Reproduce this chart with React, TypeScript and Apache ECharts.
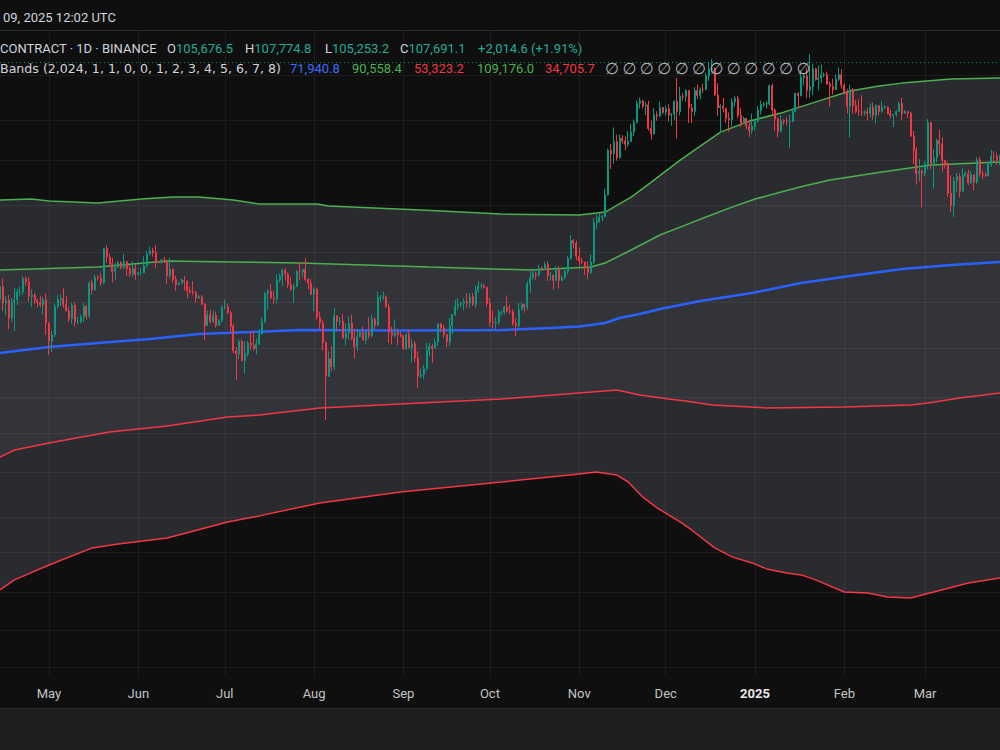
import React, { useEffect, useRef } from "react";
import * as echarts from "echarts";

// ---------- DATA ----------
// Daily candles [open, high, low, close], first day = 2024-04-14
const apr2024 = [
  [63900, 65800, 62300, 65700], [65700, 66900, 62300, 63450], [63450, 64400, 61700, 63800],
  [63800, 64500, 59800, 61300], [61300, 64100, 60800, 63500], [63500, 65500, 59600, 63850],
  [63850, 65400, 63100, 64950], [64950, 65700, 64300, 64960], [64960, 67200, 64500, 66850],
  [66850, 67200, 65850, 66400], [66400, 67100, 63600, 64300], [64300, 65300, 62800, 64500],
  [64500, 64800, 63300, 63770], [63770, 63900, 62800, 63460], [63460, 64350, 62800, 63120],
  [63120, 64200, 61800, 63840], [63840, 64700, 59100, 60630],
];
const may2024 = [
  [60630, 60800, 56500, 58250], [58250, 59600, 56900, 59120], [59120, 63300, 58800, 62880],
  [62880, 64500, 62600, 63890], [63890, 64600, 62900, 64000], [64000, 65500, 62700, 63150],
  [63150, 64400, 62200, 62300], [62300, 62900, 60800, 61200], [61200, 63400, 60600, 63070],
  [63070, 63500, 60200, 60800], [60800, 61500, 60500, 60820], [60820, 61800, 60600, 61480],
  [61480, 63450, 60800, 62940], [62940, 63100, 61100, 61580], [61580, 66450, 61300, 66250],
  [66250, 66700, 64600, 65230], [65230, 67450, 65100, 67050], [67050, 67400, 66600, 66940],
  [66940, 67700, 65850, 66270], [66270, 71500, 66100, 71450], [71450, 71950, 69200, 70140],
  [70140, 70650, 68900, 69120], [69120, 70050, 66300, 67930], [67930, 69250, 66600, 68530],
  [68530, 69550, 68500, 69280], [69280, 69500, 68250, 68500], [68500, 70600, 68250, 69400],
  [69400, 69550, 67300, 68350], [68350, 68900, 67150, 67600], [67600, 69500, 67150, 68350],
  [68350, 69000, 66700, 67500],
];
const jun2024 = [
  [67500, 67850, 67400, 67750], [67750, 68400, 67300, 67760], [67760, 70250, 67650, 68800],
  [68800, 71050, 68550, 70560], [70560, 71750, 70380, 71080], [71080, 71600, 70150, 70800],
  [70800, 71950, 68500, 69350], [69350, 69550, 69200, 69300], [69300, 69850, 69150, 69650],
  [69650, 70150, 69200, 69500], [69500, 69550, 66050, 67320], [67320, 69950, 66900, 68240],
  [68240, 68400, 66300, 66750], [66750, 67300, 65050, 66000], [66000, 66400, 65900, 66200],
  [66200, 66950, 66050, 66650], [66650, 67250, 65150, 66500], [66500, 66550, 64050, 65150],
  [65150, 65700, 64700, 64950], [64950, 66500, 64500, 64850], [64850, 65050, 63400, 64100],
  [64100, 64500, 63950, 64250], [64250, 64500, 63150, 63200], [63200, 63350, 58400, 60300],
  [60300, 62400, 60250, 61800], [61800, 62450, 60600, 60850], [60850, 62350, 60650, 61700],
  [61700, 62200, 60050, 60350], [60350, 61200, 60300, 60950], [60950, 63000, 60700, 62750],
];
const jul2024 = [
  [62750, 63850, 62500, 62900], [62900, 63300, 61850, 62050], [62050, 62300, 59450, 60200],
  [60200, 60500, 56750, 57050], [57050, 57550, 53500, 56650], [56650, 58500, 56000, 58250],
  [58250, 58450, 55750, 55850], [55850, 58250, 54250, 56700], [56700, 58300, 56300, 58050],
  [58050, 59450, 57200, 57750], [57750, 59550, 57050, 57350], [57350, 58600, 56600, 57900],
  [57900, 59850, 57750, 59250], [59250, 61400, 59150, 60800], [60800, 64900, 60650, 64750],
  [64750, 65350, 62400, 65050], [65050, 66100, 63900, 64100], [64100, 65100, 63250, 63950],
  [63950, 67450, 63300, 66650], [66650, 67600, 66300, 67150], [67150, 68350, 65800, 68150],
  [68150, 68500, 66600, 67550], [67550, 67800, 65450, 65950], [65950, 67100, 65100, 65350],
  [65350, 66150, 63400, 65750], [65750, 68200, 65700, 67900], [67900, 69350, 66650, 67850],
  [67850, 68300, 67050, 68250], [68250, 70000, 66500, 66750], [66750, 66950, 65300, 66200],
  [66200, 66800, 64500, 64600],
];
const aug2024 = [
  [64600, 65600, 62250, 65350], [65350, 65550, 61100, 61450], [61450, 62200, 59850, 60650],
  [60650, 61100, 57150, 58100], [58100, 58250, 49000, 53950], [53950, 57000, 53850, 56050],
  [56050, 57650, 54550, 55100], [55100, 62700, 54700, 61650], [61650, 61700, 59550, 60850],
  [60850, 61450, 60300, 60900], [60900, 61850, 58550, 58700], [58700, 60650, 57700, 59350],
  [59350, 61550, 58450, 60600], [60600, 61750, 58400, 58700], [58700, 59800, 56100, 57550],
  [57550, 59800, 57050, 58850], [58850, 59650, 58800, 59450], [59450, 60200, 58350, 58450],
  [58450, 59600, 57850, 59450], [59450, 61400, 58600, 59000], [59000, 61800, 58800, 61150],
  [61150, 61400, 59800, 60350], [60350, 64950, 60300, 64050], [64050, 64500, 63550, 64150],
  [64150, 65000, 63800, 64200], [64200, 64450, 62750, 62850], [62850, 63200, 58050, 59450],
  [59450, 60200, 57850, 59000], [59000, 61150, 58750, 59400], [59400, 59900, 57750, 59100],
  [59100, 59450, 58750, 58950],
];
const sep2024 = [
  [58950, 59050, 57150, 57300], [57300, 59400, 57150, 59100], [59100, 59800, 57350, 57450],
  [57450, 58500, 55600, 57950], [57950, 58300, 55650, 56150], [56150, 57000, 52550, 53950],
  [53950, 54850, 53750, 54150], [54150, 55300, 53650, 54850], [54850, 58100, 54600, 57050],
  [57050, 58050, 56400, 57650], [57650, 57950, 55550, 57350], [57350, 58600, 57300, 58150],
  [58150, 60600, 57650, 60550], [60550, 60650, 59450, 60000], [60000, 60400, 58700, 59150],
  [59150, 59200, 57500, 58200], [58200, 61300, 57650, 60300], [60300, 61800, 59200, 61750],
  [61750, 63850, 61600, 62950], [62950, 64100, 62400, 63200], [63200, 63550, 62800, 63350],
  [63350, 64000, 62400, 63600], [63600, 64700, 62700, 63350], [63350, 64800, 62700, 64250],
  [64250, 64800, 62950, 63150], [63150, 65800, 62700, 65200], [65200, 66500, 64850, 65800],
  [65800, 66250, 65400, 65850], [65850, 66100, 65450, 65600], [65600, 65650, 62850, 63300],
];
const oct2024 = [
  [63300, 64100, 60200, 60800], [60800, 62350, 59950, 60650], [60650, 61450, 59850, 60750],
  [60750, 62450, 60450, 62050], [62050, 62350, 61650, 62100], [62100, 62950, 61800, 62800],
  [62800, 64450, 62100, 62200], [62200, 63150, 61850, 62150], [62150, 62500, 60300, 60600],
  [60600, 61300, 58900, 60300], [60300, 63400, 60050, 62450], [62450, 63450, 62350, 63200],
  [63200, 63250, 62050, 62850], [62850, 66500, 62450, 66050], [66050, 67900, 64800, 67050],
  [67050, 68400, 66700, 67600], [67600, 67900, 66700, 67400], [67400, 68950, 67100, 68400],
  [68400, 68700, 68000, 68350], [68350, 69400, 68150, 69000], [69000, 69500, 66550, 67350],
  [67350, 67850, 66600, 67400], [67400, 67450, 65250, 66650], [66650, 68800, 66500, 68150],
  [68150, 68750, 65450, 66600], [66600, 67400, 66500, 67000], [67000, 68250, 66800, 67950],
  [67950, 70250, 67500, 69900], [69900, 73600, 69700, 72700], [72700, 72950, 71450, 72300],
  [72300, 72700, 69650, 70250],
];
const nov2024 = [
  [70250, 71600, 68800, 69500], [69500, 70000, 69050, 69350], [69350, 69400, 67450, 68750],
  [68750, 69500, 66800, 67800], [67800, 70550, 67500, 69350], [69350, 76400, 69050, 75600],
  [75600, 76950, 74550, 75900], [75900, 77200, 75600, 76550], [76550, 76900, 75850, 76650],
  [76650, 81500, 76500, 80400], [80400, 89000, 80250, 88700], [88700, 89950, 85100, 87950],
  [87950, 93250, 86100, 90400], [90400, 91800, 86700, 87250], [87250, 91850, 87100, 91050],
  [91050, 91700, 90000, 90550], [90550, 91450, 88700, 89850], [89850, 92550, 89350, 90450],
  [90450, 93950, 90300, 92300], [92300, 94900, 91500, 94300], [94300, 98950, 94100, 98350],
  [98350, 99600, 97200, 98900], [98900, 99000, 97200, 97750], [97750, 98650, 95800, 98000],
  [98000, 98900, 92600, 93050], [93050, 94700, 90800, 91950], [91950, 97350, 91800, 95950],
  [95950, 96650, 94650, 95650], [95650, 98700, 95400, 97450], [97450, 97500, 96000, 96400],
];
const dec2024 = [
  [96400, 97850, 95700, 97200], [97200, 98150, 94500, 95850], [95850, 96300, 93600, 96000],
  [96000, 99000, 94700, 98750], [98750, 104000, 91000, 96600], [96600, 101950, 95750, 99900],
  [99900, 100550, 98950, 99850], [99850, 101400, 98700, 101150], [101150, 101200, 94150, 97350],
  [97350, 98250, 94200, 96600], [96600, 101900, 95650, 101150], [101150, 102500, 99300, 100050],
  [100050, 101850, 99200, 101400], [101400, 102650, 100600, 101350], [101350, 105200, 101200, 104450],
  [104450, 107750, 103300, 106050], [106050, 108350, 105300, 106150], [106150, 106450, 100000, 100150],
  [100150, 102800, 95650, 97450], [97450, 98150, 92200, 97750], [97750, 99500, 96400, 97250],
  [97250, 97400, 94200, 95150], [95150, 96400, 92400, 94850], [94850, 99450, 93450, 98700],
  [98700, 99950, 97600, 99400], [99400, 99950, 95150, 95800], [95800, 97300, 93350, 94200],
  [94200, 95500, 94000, 95150], [95150, 95200, 92900, 93550], [93550, 94900, 91300, 92650],
  [92650, 96150, 92000, 93550],
];
const jan2025 = [
  [93550, 95000, 92700, 94550], [94550, 97750, 94200, 96850], [96850, 98950, 96000, 98100],
  [98100, 98700, 97500, 98200], [98200, 98800, 97200, 98300], [98300, 102500, 97900, 102200],
  [102200, 102700, 96100, 96900], [96900, 97250, 92500, 95000], [95000, 95350, 91200, 92500],
  [92500, 95800, 92200, 94700], [94700, 95000, 93800, 94550], [94550, 95350, 93700, 94500],
  [94500, 95900, 89200, 94550], [94550, 97350, 94300, 96500], [96500, 100650, 96450, 100500],
  [100500, 100800, 97300, 99950], [99950, 105800, 99900, 104050], [104050, 104950, 102300, 104450],
  [104450, 106300, 99500, 101200], [101200, 109588, 99550, 102000], [102000, 107200, 100100, 106100],
  [106100, 106300, 103350, 103650], [103650, 106850, 101200, 103950], [103950, 107100, 102750, 104700],
  [104700, 105250, 104100, 104750], [104750, 105450, 102450, 102600], [102600, 103200, 97700, 102050],
  [102050, 103800, 100250, 101300], [101300, 104800, 101250, 103700], [103700, 106450, 103300, 104750],
  [104750, 106000, 101550, 102400],
];
const feb2025 = [
  [102400, 102750, 100300, 100650], [100650, 101450, 96150, 97700], [97700, 102500, 91200, 101350],
  [101350, 101700, 96150, 97850], [97850, 99150, 96150, 96600], [96600, 99200, 95700, 96550],
  [96550, 100100, 95650, 96450], [96450, 96850, 95700, 96500], [96500, 97300, 94700, 96150],
  [96150, 98350, 95300, 97450], [97450, 98500, 94850, 95800], [95800, 98100, 94100, 97850],
  [97850, 97950, 95700, 96600], [96600, 98800, 96300, 97500], [97500, 97950, 97150, 97550],
  [97550, 97700, 96000, 96150], [96150, 97000, 95150, 95750], [95750, 96000, 93350, 95950],
  [95950, 96900, 95550, 96600], [96600, 98750, 96450, 98300], [98300, 99500, 94800, 96150],
  [96150, 96900, 96100, 96550], [96550, 96650, 95200, 96250], [96250, 96500, 91350, 91500],
  [91500, 92500, 86050, 88700], [88700, 89300, 82250, 84250], [84250, 87000, 82800, 84700],
  [84700, 85100, 78200, 84350],
];
const mar2025 = [
  [84350, 86550, 83800, 86050], [86050, 95000, 85050, 94250], [94250, 94400, 85100, 86100],
  [86100, 88900, 81500, 87250], [87250, 91000, 86350, 90600], [90600, 92800, 87800, 89950],
  [89950, 91250, 84650, 86750], [86750, 86850, 85200, 86150], [86150, 86450, 80050, 80700],
  [80700, 83950, 77400, 78550], [78550, 83600, 76600, 82900], [82900, 84350, 80900, 83700],
  [83700, 84300, 79950, 81050], [81050, 85250, 80800, 83950], [83950, 84650, 83650, 84300],
  [84300, 85000, 82150, 82550], [82550, 84700, 82450, 84050], [84050, 84100, 81200, 82700],
  [82700, 87350, 82400, 86850], [86850, 87400, 83700, 84200], [84200, 84800, 83200, 84050],
  [84050, 84550, 83700, 83850], [83850, 86100, 83750, 86050], [86050, 88750, 85500, 87500],
  [87500, 88500, 86350, 87450], [87450, 88250, 85900, 86900], [86900, 87800, 85850, 87200],
];

// Band lines, sampled [date, price]
const basisLine = [
  ["2024-04-14", 56780], ["2024-05-01", 57530], ["2024-05-18", 58040], ["2024-06-05", 58550],
  ["2024-06-22", 59200], ["2024-07-10", 59460], ["2024-07-27", 59730], ["2024-08-31", 59660],
  ["2024-10-05", 59730], ["2024-10-22", 59990], ["2024-11-01", 60190], ["2024-11-10", 60650],
  ["2024-11-15", 61320], ["2024-11-22", 61860], ["2024-11-29", 62550], ["2024-12-13", 63660],
  ["2024-12-31", 64790], ["2025-01-17", 66230], ["2025-02-03", 67260], ["2025-02-21", 68300],
  ["2025-03-10", 68900], ["2025-03-27", 69360],
];
const innerUpper = [
  ["2024-04-14", 68150], ["2024-05-18", 68600], ["2024-06-11", 69510], ["2024-07-04", 69360],
  ["2024-07-27", 69210], ["2024-09-10", 68600], ["2024-10-15", 68150], ["2024-11-05", 68600],
  ["2024-11-10", 69210], ["2024-11-19", 71220], ["2024-11-29", 73610], ["2024-12-06", 74900],
  ["2024-12-15", 76580], ["2024-12-24", 78270], ["2025-01-01", 79670], ["2025-01-10", 80900],
  ["2025-01-18", 81970], ["2025-01-27", 83070], ["2025-02-05", 83800], ["2025-02-14", 84540],
  ["2025-03-03", 85850], ["2025-03-27", 86420],
];
const outerUpper = [
  ["2024-04-14", 79490], ["2024-04-25", 79670], ["2024-05-01", 79320], ["2024-05-18", 78970],
  ["2024-06-02", 79670], ["2024-06-13", 80020], ["2024-06-22", 80020], ["2024-07-04", 79490],
  ["2024-07-13", 78790], ["2024-08-02", 78790], ["2024-08-06", 78440], ["2024-09-07", 77750],
  ["2024-10-05", 77070], ["2024-11-01", 76900], ["2024-11-10", 77410], ["2024-11-19", 80020],
  ["2024-11-26", 82700], ["2024-12-06", 86800], ["2024-12-13", 89510], ["2024-12-20", 92310],
  ["2024-12-30", 94570], ["2025-01-10", 96250], ["2025-01-24", 99040], ["2025-02-03", 101030],
  ["2025-02-13", 102150], ["2025-02-21", 102810], ["2025-03-10", 103720], ["2025-03-27", 103950],
];
const innerLower = [
  ["2024-04-14", 45170], ["2024-04-19", 45870], ["2024-05-01", 46580], ["2024-05-22", 47730],
  ["2024-06-11", 48360], ["2024-07-02", 49320], ["2024-07-13", 49540], ["2024-08-03", 50310],
  ["2024-08-31", 50760], ["2024-10-05", 51320], ["2024-11-01", 52000], ["2024-11-14", 52340],
  ["2024-11-22", 51770], ["2024-12-02", 51320], ["2024-12-08", 51090], ["2024-12-17", 50640],
  ["2025-01-05", 50310], ["2025-02-01", 50420], ["2025-02-24", 50640], ["2025-03-02", 50870],
  ["2025-03-13", 51430], ["2025-03-27", 52000],
];
const outerLower = [
  ["2024-04-14", 33710], ["2024-04-19", 34470], ["2024-05-01", 35620], ["2024-05-16", 36980],
  ["2024-05-25", 37310], ["2024-06-11", 37800], ["2024-07-02", 39150], ["2024-07-13", 39680],
  ["2024-08-03", 40830], ["2024-08-31", 41830], ["2024-10-05", 42750], ["2024-11-01", 43510],
  ["2024-11-07", 43700], ["2024-11-14", 43420], ["2024-11-18", 42750], ["2024-11-23", 41370],
  ["2024-11-28", 40380], ["2024-12-02", 39760], ["2024-12-06", 39160], ["2024-12-10", 38470],
  ["2024-12-18", 36980], ["2024-12-24", 36260], ["2024-12-31", 35780], ["2025-01-05", 35310],
  ["2025-01-12", 35000], ["2025-01-17", 34850], ["2025-01-22", 34470], ["2025-02-01", 33560],
  ["2025-02-09", 33490], ["2025-02-16", 33200], ["2025-02-24", 33120], ["2025-03-04", 33560],
  ["2025-03-16", 34240], ["2025-03-27", 34620],
];

// Price levels of the faint horizontal grid lines
const gridPrices = [104640, 94790, 86800, 78620, 70900, 63520, 57400, 51540, 47620, 43700, 39590, 36650, 33560, 30880, 28460];

// Header texts
const headerDate = "09, 2025 12:02 UTC";
const symbolText = "CONTRACT · 1D · BINANCE";
const ohlcHeader = [
  ["O", "105,676.5"], ["H", "107,774.8"], ["L", "105,253.2"], ["C", "107,691.1"],
];
const changeText = "+2,014.6 (+1.91%)";
const lastPrice = 107691.1;
const bandsTitle = "Bands (2,024, 1, 1, 0, 0, 1, 2, 3, 4, 5, 6, 7, 8)";
const bandValues = ["71,940.8", "90,558.4", "53,323.2", "109,176.0", "34,705.7"];
const monthNames = ["Jan", "Feb", "Mar", "Apr", "May", "Jun", "Jul", "Aug", "Sep", "Oct", "Nov", "Dec"];

// ---------- BUILD ----------
const ohlc = [
  ...apr2024, ...may2024, ...jun2024, ...jul2024, ...aug2024, ...sep2024,
  ...oct2024, ...nov2024, ...dec2024, ...jan2025, ...feb2025, ...mar2025,
];
const START = Date.UTC(2024, 3, 14);
const DAY = 86400000;
const fmtDate = (t: number) => new Date(t).toISOString().slice(0, 10);
const categories = ohlc.map((_, i) => fmtDate(START + i * DAY));
const candleData = ohlc.map(([o, h, l, c]) => [o, c, l, h]);
const monthStarts = categories.filter((d) => d.slice(8) === "01");

const UP = "#089981";
const DOWN = "#f23645";
const GREEN = "#4caf50";
const BLUE = "#2962ff";
const BG = "#0f0f0f";
const FONT = 'Roboto, "Noto Sans", sans-serif';

export default function App() {
  const ref = useRef<HTMLDivElement>(null);
  useEffect(() => {
    if (!ref.current) return;
    const chart = echarts.init(ref.current, undefined, { renderer: "svg" });

    const bandSeries = (data: any[], color: string, fill: string, z: number) => ({
      type: "line",
      data,
      z,
      symbol: "none",
      showSymbol: false,
      silent: true,
      lineStyle: { color, width: 1.5 },
      areaStyle: { color: fill, origin: "start", opacity: 1 },
    });

    const textStyle = (extra: any) => ({ fontFamily: FONT, fontSize: 13, fill: "#d1d4dc", ...extra });

    const graphics: any[] = [
      { type: "rect", shape: { x: 0, y: 708, width: 1000, height: 42 }, style: { fill: "#1f1f1f" }, z: 100 },
      { type: "line", shape: { x1: 0, y1: 708.5, x2: 1000, y2: 708.5 }, style: { stroke: "#2b2b2b", lineWidth: 1 }, z: 101 },
      { type: "line", shape: { x1: 0, y1: 30.5, x2: 1000, y2: 30.5 }, style: { stroke: "#2b2b2b", lineWidth: 1 }, z: 101 },
      { type: "text", x: 3, y: 17, style: textStyle({ text: headerDate, verticalAlign: "middle" }), z: 101 },
      { type: "text", x: 0, y: 48, style: textStyle({ text: symbolText, verticalAlign: "middle" }), z: 101 },
    ];
    const ohlcX = [167, 245, 325, 400];
    ohlcHeader.forEach(([k, v], i) => {
      graphics.push({
        type: "text",
        x: ohlcX[i],
        y: 48,
        z: 101,
        style: {
          text: `{k|${k}}{v|${v}}`,
          verticalAlign: "middle",
          rich: {
            k: { fontFamily: FONT, fontSize: 13, fill: "#d1d4dc" },
            v: { fontFamily: FONT, fontSize: 13, fill: "#22ab94" },
          },
        },
      });
    });
    graphics.push({ type: "text", x: 478, y: 48, z: 101, style: textStyle({ text: changeText, fill: "#22ab94", verticalAlign: "middle" }) });
    graphics.push({
      type: "text", x: 0, y: 68, z: 101,
      style: textStyle({ text: bandsTitle, fontFamily: '"DejaVu Sans", sans-serif', fontSize: 12.6, verticalAlign: "middle" }),
    });
    const bandX = [290, 352, 414, 477, 545];
    const bandCol = ["#3d6bff", GREEN, DOWN, GREEN, DOWN];
    bandValues.forEach((v, i) => {
      graphics.push({ type: "text", x: bandX[i], y: 68, z: 101, style: textStyle({ text: v, fill: bandCol[i], verticalAlign: "middle" }) });
    });
    for (let k = 0; k < 12; k++) {
      graphics.push({
        type: "text",
        x: 612 + k * 17.4,
        y: 68,
        z: 101,
        style: { text: "∅", fontFamily: '"DejaVu Sans", sans-serif', fontSize: 16, fill: "#b2b5be", align: "center", verticalAlign: "middle" },
      });
    }

    chart.setOption({
      animation: false,
      backgroundColor: BG,
      grid: { left: 0, right: 0, top: 31, bottom: 74, containLabel: false },
      xAxis: {
        type: "category",
        data: categories,
        boundaryGap: false,
        axisLine: { show: false },
        axisTick: { show: false },
        splitLine: { show: false },
        axisLabel: {
          interval: (_i: number, v: string) => v.slice(8) === "01",
          margin: 11,
          color: "#c3c3c3",
          fontFamily: FONT,
          fontSize: 13,
          formatter: (v: string) => {
            const m = Number(v.slice(5, 7));
            if (m === 1) return `{y|${v.slice(0, 4)}}`;
            return monthNames[m - 1];
          },
          rich: { y: { fontFamily: FONT, fontSize: 13, fontWeight: "bold", color: "#e8e8e8" } },
        },
      },
      yAxis: {
        type: "log",
        min: 27900,
        max: 115300,
        axisLine: { show: false },
        axisTick: { show: false },
        axisLabel: { show: false },
        splitLine: { show: false },
      },
      series: [
        bandSeries(outerUpper, GREEN, "#2a2b2f", 1),
        bandSeries(innerUpper, GREEN, "#333439", 2),
        bandSeries(innerLower, DOWN, "#2a2b2f", 3),
        bandSeries(outerLower, DOWN, BG, 4),
        {
          type: "line",
          data: [],
          z: 5,
          silent: true,
          markLine: {
            silent: true,
            symbol: ["none", "none"],
            label: { show: false },
            lineStyle: { color: "rgba(242,242,242,0.06)", width: 1, type: "solid" },
            data: [
              ...monthStarts.map((d) => ({ xAxis: d })),
              ...gridPrices.map((p) => ({ yAxis: p })),
            ],
          },
        },
        {
          type: "line",
          data: basisLine,
          z: 6,
          symbol: "none",
          showSymbol: false,
          silent: true,
          lineStyle: { color: BLUE, width: 2.5 },
        },
        {
          type: "candlestick",
          data: candleData,
          z: 7,
          barWidth: 1.5,
          silent: true,
          itemStyle: { color: UP, color0: DOWN, borderColor: UP, borderColor0: DOWN, borderWidth: 1 },
          markLine: {
            silent: true,
            symbol: ["none", "none"],
            label: { show: false },
            lineStyle: { color: UP, width: 1, type: [1, 3] },
            data: [{ yAxis: lastPrice }],
          },
        },
      ],
      graphic: graphics,
    });
    return () => chart.dispose();
  }, []);
  return (
    <div
      ref={ref}
      style={{ position: "fixed", left: 0, top: 0, width: 1000, height: 750, background: BG }}
    />
  );
}
